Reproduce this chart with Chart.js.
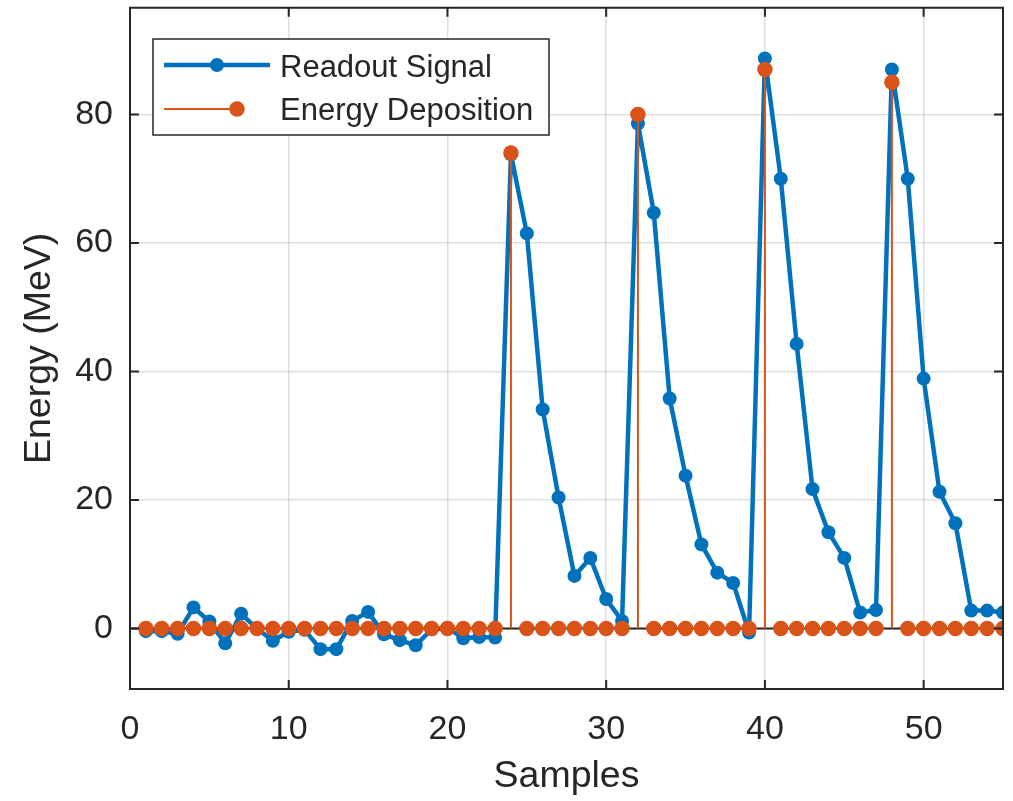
<!DOCTYPE html>
<html>
<head>
<meta charset="utf-8">
<script src="https://cdn.jsdelivr.net/npm/chart.js@4.4.1/dist/chart.umd.min.js"></script>
<style>
    html, body { margin: 0; padding: 0; background: #fff; }
</style>
</head>
<body>
<canvas id="energyChart" width="1013" height="801"></canvas>
<script>
// sample index along the x axis
const samples = [1, 2, 3, 4, 5, 6, 7, 8, 9, 10, 11, 12, 13, 14, 15, 16, 17, 18, 19, 20,
    21, 22, 23, 24, 25, 26, 27, 28, 29, 30, 31, 32, 33, 34, 35, 36, 37, 38, 39, 40,
    41, 42, 43, 44, 45, 46, 47, 48, 49, 50, 51, 52, 53, 54, 55];

// Readout Signal (MeV)
const readout = [-0.4, -0.4, -0.8, 3.3, 1.1, -2.3, 2.3, 0.0, -1.9, -0.5,
    -0.2, -3.2, -3.2, 1.2, 2.6, -0.9, -1.8, -2.6, -0.1, 0.1,
    -1.5, -1.3, -1.4, 73.8, 61.5, 34.1, 20.4, 8.2, 11.0, 4.6,
    1.2, 78.6, 64.7, 35.8, 23.8, 13.1, 8.7, 7.1, -0.6, 88.7,
    70.0, 44.3, 21.7, 15.0, 11.0, 2.5, 2.9, 87.0, 70.0, 38.9,
    21.3, 16.4, 2.8, 2.8, 2.5];

// Energy Deposition (MeV), stem plot
const energy = [0, 0, 0, 0, 0, 0, 0, 0, 0, 0,
    0, 0, 0, 0, 0, 0, 0, 0, 0, 0,
    0, 0, 0, 74, 0, 0, 0, 0, 0, 0,
    0, 80, 0, 0, 0, 0, 0, 0, 0, 87,
    0, 0, 0, 0, 0, 0, 0, 85, 0, 0,
    0, 0, 0, 0, 0];

const xTicks = [0, 10, 20, 30, 40, 50];
const yTicks = [0, 20, 40, 60, 80];
const seriesNames = ['Readout Signal', 'Energy Deposition'];

const BLUE = '#0072BD';
const ORANGE = '#D95319';
const AXIS = '#262626';
const GRID = 'rgba(38,38,38,0.15)';
const FONT = "'Liberation Sans', Arial, Helvetica, sans-serif";

// stems: vertical segment from 0 to the value, gaps in between
const stemPoints = [];
samples.forEach((s, i) => {
    if (energy[i] !== 0) {
        stemPoints.push({x: s, y: 0}, {x: s, y: energy[i]}, {x: s, y: null});
    }
});

const framePlugin = {
    id: 'frame',
    afterDatasetsDraw(chart) {
        const {ctx, chartArea: a, scales: {x, y}} = chart;
        const tl = 9;
        ctx.save();
        ctx.strokeStyle = AXIS;
        ctx.lineWidth = 2;
        ctx.strokeRect(a.left, a.top, a.right - a.left, a.bottom - a.top);
        ctx.beginPath();
        xTicks.forEach(v => {
            const px = x.getPixelForValue(v);
            ctx.moveTo(px, a.bottom); ctx.lineTo(px, a.bottom - tl);
            ctx.moveTo(px, a.top); ctx.lineTo(px, a.top + tl);
        });
        yTicks.forEach(v => {
            const py = y.getPixelForValue(v);
            ctx.moveTo(a.left, py); ctx.lineTo(a.left + tl, py);
            ctx.moveTo(a.right, py); ctx.lineTo(a.right - tl, py);
        });
        ctx.stroke();
        ctx.restore();
    }
};

// matlab style legend box: line sample + marker + label
const legendPlugin = {
    id: 'boxLegend',
    afterDraw(chart) {
        const ctx = chart.ctx;
        const box = {left: 153, top: 39, width: 396, height: 96};
        ctx.save();
        ctx.fillStyle = '#fff';
        ctx.fillRect(box.left, box.top, box.width, box.height);
        ctx.strokeStyle = AXIS;
        ctx.lineWidth = 1.5;
        ctx.strokeRect(box.left, box.top, box.width, box.height);

        // Readout Signal
        let yy = 65;
        ctx.strokeStyle = BLUE;
        ctx.lineWidth = 4.5;
        ctx.beginPath(); ctx.moveTo(164, yy); ctx.lineTo(270, yy); ctx.stroke();
        ctx.fillStyle = BLUE;
        ctx.beginPath(); ctx.arc(217, yy, 7, 0, Math.PI * 2); ctx.fill();

        // Energy Deposition
        yy = 109;
        ctx.strokeStyle = ORANGE;
        ctx.lineWidth = 2;
        ctx.beginPath(); ctx.moveTo(164, yy); ctx.lineTo(237, yy); ctx.stroke();
        ctx.fillStyle = ORANGE;
        ctx.beginPath(); ctx.arc(237, yy, 7.75, 0, Math.PI * 2); ctx.fill();

        ctx.fillStyle = AXIS;
        ctx.font = '31px ' + FONT;
        ctx.textBaseline = 'alphabetic';
        ctx.textAlign = 'left';
        ctx.fillText(seriesNames[0], 280, 77);
        ctx.fillText(seriesNames[1], 280, 120);
        ctx.restore();
    }
};

const ctx = document.getElementById('energyChart').getContext('2d');
const chart = new Chart(ctx, {
    type: 'line',
    data: {
        datasets: [
            {
                label: seriesNames[1],
                data: samples.map((s, i) => ({x: s, y: energy[i]})),
                showLine: false,
                pointRadius: 7.75,
                pointBackgroundColor: ORANGE,
                pointBorderWidth: 0,
                order: 0
            },
            {
                label: 'stems',
                data: stemPoints,
                borderColor: ORANGE,
                borderWidth: 2,
                pointRadius: 0,
                spanGaps: false,
                order: 1
            },
            {
                label: 'baseline',
                data: [{x: 0, y: 0}, {x: 55, y: 0}],
                borderColor: AXIS,
                borderWidth: 2,
                pointRadius: 0,
                order: 2
            },
            {
                label: seriesNames[0],
                data: samples.map((s, i) => ({x: s, y: readout[i]})),
                borderColor: BLUE,
                borderWidth: 4.5,
                borderJoinStyle: 'round',
                borderCapStyle: 'round',
                pointRadius: 7,
                pointBackgroundColor: BLUE,
                pointBorderWidth: 0,
                tension: 0,
                order: 3
            }
        ]
    },
    options: {
        responsive: false,
        animation: false,
        devicePixelRatio: 1,
        layout: {padding: {top: 6, right: 10, left: 0, bottom: 0}},
        plugins: {
            legend: {display: false},
            tooltip: {enabled: false}
        },
        scales: {
            x: {
                type: 'linear',
                min: 0,
                max: 55,
                offset: false,
                afterBuildTicks: scale => { scale.ticks = xTicks.map(v => ({value: v})); },
                afterFit: scale => {
                    scale.height = 112;
                    scale.paddingLeft = 0;
                    scale.paddingRight = 0;
                },
                grid: {color: GRID, lineWidth: 1.5, drawTicks: false, offset: false},
                border: {display: false},
                ticks: {font: {family: FONT, size: 34}, color: AXIS, padding: 20, maxRotation: 0},
                title: {
                    display: true,
                    text: 'Samples',
                    font: {family: FONT, size: 37.5},
                    color: AXIS,
                    padding: {top: 0, bottom: 2}
                }
            },
            y: {
                type: 'linear',
                min: -9.4,
                max: 96.6,
                afterBuildTicks: scale => { scale.ticks = yTicks.map(v => ({value: v})); },
                afterFit: scale => {
                    scale.width = 130;
                    scale.paddingTop = 0;
                    scale.paddingBottom = 0;
                },
                grid: {color: GRID, lineWidth: 1.5, drawTicks: false},
                border: {display: false},
                ticks: {font: {family: FONT, size: 34}, color: AXIS, padding: 17},
                title: {
                    display: true,
                    text: 'Energy (MeV)',
                    font: {family: FONT, size: 37.5},
                    color: AXIS,
                    padding: {top: 17, bottom: 0}
                }
            }
        }
    },
    plugins: [framePlugin, legendPlugin]
});
</script>
</body>
</html>
